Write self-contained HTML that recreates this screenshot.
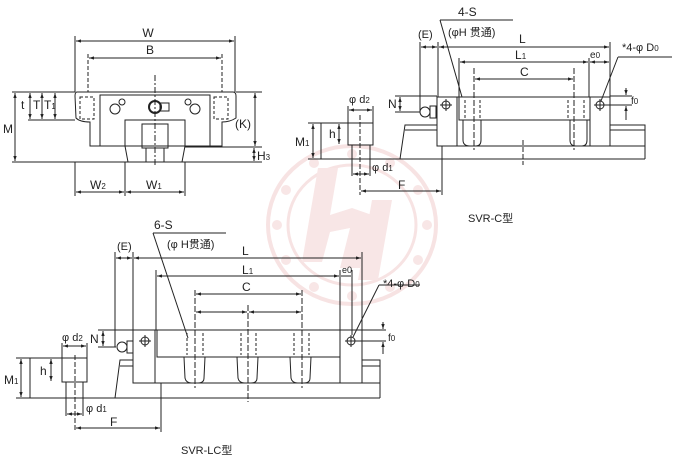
<!DOCTYPE html>
<html><head><meta charset="utf-8"><style>
html,body{margin:0;padding:0;background:#fff;width:678px;height:464px;overflow:hidden}
svg{display:block}
text{font-family:"Liberation Sans","Noto Sans CJK SC",sans-serif;fill:#222}
</style></head><body>
<svg width="678" height="464" viewBox="0 0 678 464" xmlns="http://www.w3.org/2000/svg">
<defs>
<marker id="a" viewBox="0 0 6 6" refX="6" refY="3" markerWidth="5" markerHeight="5" orient="auto-start-reverse"><path d="M0,1 L6,3 L0,5z" fill="#222"/></marker>
</defs>
<!-- watermark -->
<g fill="none" stroke="#f7e3e3">
<ellipse cx="352" cy="225" rx="84" ry="79" stroke-width="4"/>
<ellipse cx="352" cy="225" rx="64" ry="60" stroke-width="3"/>
</g>
<g fill="#f8e6e6">
<circle cx="352" cy="154" r="5"/><circle cx="390" cy="163" r="5"/><circle cx="418" cy="190" r="5"/><circle cx="427" cy="225" r="5"/><circle cx="418" cy="260" r="5"/><circle cx="390" cy="287" r="5"/><circle cx="352" cy="296" r="5"/><circle cx="314" cy="287" r="5"/><circle cx="286" cy="260" r="5"/><circle cx="277" cy="225" r="5"/><circle cx="286" cy="190" r="5"/><circle cx="314" cy="163" r="5"/>
<path d="M318,168 L338,168 L330,215 L352,208 L372,215 L360,268 L340,268 L350,228 L330,232 L322,262 L302,262 Z"/>
<path d="M372,200 L392,200 L378,280 L358,280 Z"/>
</g>

<g stroke="#222" stroke-width="1" fill="none">
<!-- ===== Front view ===== -->
<line x1="75" y1="36" x2="75" y2="92"/><line x1="235" y1="36" x2="235" y2="92"/>
<line x1="76" y1="41" x2="234" y2="41" marker-start="url(#a)" marker-end="url(#a)"/>
<line x1="88" y1="54" x2="88" y2="92" stroke-dasharray="4,2"/><line x1="222" y1="54" x2="222" y2="92" stroke-dasharray="4,2"/>
<line x1="89" y1="58" x2="221" y2="58" marker-start="url(#a)" marker-end="url(#a)"/>
<path d="M77,92 L233,92 Q236,92 236,96 L236,118 Q230,122 222,122 L222,146 L185,146 L185,120 L125,120 L125,146 L90,146 L90,122 Q80,122 76,118 L75,96 Q75,92 77,92 Z"/>
<rect x="100" y="95" width="110" height="51"/>
<rect x="80" y="97" width="14" height="22" stroke-dasharray="3,2"/><rect x="214" y="97" width="14" height="22" stroke-dasharray="3,2"/>
<path d="M125,120 L185,120 L185,146 L182,162 L128,162 L125,146"/>
<rect x="142" y="124" width="26" height="24"/>
<rect x="146" y="148" width="18" height="14"/>
<line x1="155" y1="75" x2="155" y2="166" stroke-dasharray="6,2,2,2"/>
<circle cx="115" cy="109" r="5"/><circle cx="122" cy="102" r="3"/><circle cx="195" cy="109" r="5"/><circle cx="188" cy="102" r="3"/>
<circle cx="155" cy="107" r="6" stroke-width="2"/><rect x="160" y="103" width="9" height="8"/>
<line x1="12" y1="92" x2="75" y2="92"/><line x1="236" y1="92" x2="262" y2="92"/>
<line x1="28" y1="120" x2="75" y2="120"/>
<line x1="12" y1="162" x2="262" y2="162"/>
<line x1="185" y1="147" x2="262" y2="147"/>
<line x1="15" y1="93" x2="15" y2="161" marker-start="url(#a)" marker-end="url(#a)"/>
<line x1="30" y1="93" x2="30" y2="119" marker-start="url(#a)" marker-end="url(#a)"/>
<line x1="42" y1="93" x2="42" y2="119" marker-start="url(#a)" marker-end="url(#a)"/>
<line x1="55" y1="93" x2="55" y2="119" marker-start="url(#a)" marker-end="url(#a)"/>
<line x1="255" y1="93" x2="255" y2="146" marker-start="url(#a)" marker-end="url(#a)"/>
<line x1="254" y1="148" x2="254" y2="161" marker-start="url(#a)" marker-end="url(#a)"/>
<line x1="75" y1="162" x2="75" y2="196"/><line x1="125" y1="162" x2="125" y2="196"/><line x1="185" y1="162" x2="185" y2="196"/>
<line x1="76" y1="192" x2="124" y2="192" marker-start="url(#a)" marker-end="url(#a)"/>
<line x1="126" y1="192" x2="184" y2="192" marker-start="url(#a)" marker-end="url(#a)"/>

<!-- ===== SVR-C side view ===== -->
<line x1="321" y1="123" x2="321" y2="159"/><line x1="321" y1="123" x2="373" y2="123"/>
<rect x="348" y="123" width="25" height="22"/><rect x="352" y="145" width="18" height="14"/>
<line x1="308" y1="123" x2="321" y2="123"/><line x1="308" y1="159" x2="321" y2="159"/>
<line x1="313" y1="124" x2="313" y2="158" marker-start="url(#a)" marker-end="url(#a)"/>
<line x1="339" y1="124" x2="339" y2="144" marker-start="url(#a)" marker-end="url(#a)"/>
<line x1="348" y1="106" x2="348" y2="123"/><line x1="373" y1="106" x2="373" y2="123"/>
<line x1="349" y1="110" x2="372" y2="110" marker-start="url(#a)" marker-end="url(#a)"/>
<line x1="352" y1="159" x2="352" y2="176"/><line x1="370" y1="159" x2="370" y2="176"/>
<line x1="353" y1="174" x2="369" y2="174" marker-start="url(#a)" marker-end="url(#a)"/>
<line x1="360" y1="115" x2="360" y2="195" stroke-dasharray="5,2"/>
<line x1="361" y1="191" x2="441" y2="191" marker-start="url(#a)" marker-end="url(#a)"/>
<line x1="442" y1="146" x2="442" y2="195"/>
<line x1="321" y1="159" x2="645" y2="159"/>
<path d="M400,159 L405,125 L437,125"/><line x1="405" y1="130" x2="437" y2="130"/>
<path d="M610,125 L645,125 L645,159"/><line x1="610" y1="130" x2="645" y2="130"/>
<line x1="437" y1="146" x2="645" y2="146"/>
<rect x="437" y="97" width="173" height="49"/>
<line x1="457" y1="97" x2="457" y2="146"/><line x1="590" y1="97" x2="590" y2="146"/>
<rect x="459" y="97" width="131" height="23"/>
<path d="M463,120 L463,140 Q463,146 470,146 L476,146 Q481,146 481,140 L481,120"/>
<path d="M570,120 L570,140 Q570,146 576,146 L582,146 Q587,146 587,140 L587,120"/>
<line x1="465" y1="100" x2="465" y2="118" stroke-dasharray="3,2"/><line x1="480" y1="100" x2="480" y2="118" stroke-dasharray="3,2"/>
<line x1="568" y1="100" x2="568" y2="118" stroke-dasharray="3,2"/><line x1="584" y1="100" x2="584" y2="118" stroke-dasharray="3,2"/>
<line x1="474" y1="68" x2="474" y2="150" stroke-dasharray="6,2"/><line x1="574" y1="68" x2="574" y2="150" stroke-dasharray="6,2"/>
<line x1="523" y1="140" x2="523" y2="165" stroke-dasharray="5,2"/>
<circle cx="446" cy="105" r="4"/><line x1="440" y1="105" x2="452" y2="105"/><line x1="446" y1="99" x2="446" y2="111"/>
<circle cx="600" cy="105" r="4"/><line x1="594" y1="105" x2="632" y2="105"/><line x1="600" y1="99" x2="600" y2="111"/>
<circle cx="425" cy="112" r="5"/><rect x="430" y="106" width="6" height="12"/>
<line x1="395" y1="96" x2="437" y2="96"/><line x1="395" y1="112" x2="420" y2="112"/>
<line x1="400" y1="97" x2="400" y2="111" marker-start="url(#a)" marker-end="url(#a)"/>
<line x1="610" y1="96" x2="632" y2="96"/>
<line x1="626" y1="88" x2="626" y2="95" marker-end="url(#a)"/><line x1="626" y1="120" x2="626" y2="106" marker-end="url(#a)"/>
<line x1="420" y1="42" x2="420" y2="112"/><line x1="438" y1="42" x2="438" y2="97"/><line x1="610" y1="42" x2="610" y2="97"/>
<line x1="421" y1="47" x2="437" y2="47" marker-start="url(#a)" marker-end="url(#a)"/>
<line x1="439" y1="47" x2="609" y2="47" marker-start="url(#a)" marker-end="url(#a)"/>
<line x1="459" y1="58" x2="459" y2="97"/><line x1="589" y1="58" x2="589" y2="97"/>
<line x1="460" y1="62" x2="588" y2="62" marker-start="url(#a)" marker-end="url(#a)"/>
<line x1="590" y1="62" x2="609" y2="62" marker-start="url(#a)" marker-end="url(#a)"/>
<line x1="475" y1="79" x2="573" y2="79" marker-start="url(#a)" marker-end="url(#a)"/>
<line x1="440" y1="20" x2="513" y2="20"/><line x1="440" y1="20" x2="462" y2="97"/>
<line x1="618" y1="57" x2="672" y2="57"/><line x1="618" y1="57" x2="601" y2="101"/>

<!-- ===== SVR-LC side view ===== -->
<line x1="30" y1="358" x2="30" y2="398"/><line x1="30" y1="358" x2="87" y2="358"/>
<rect x="62" y="358" width="25" height="24"/><rect x="66" y="382" width="17" height="16"/>
<line x1="16" y1="358" x2="30" y2="358"/><line x1="16" y1="398" x2="30" y2="398"/>
<line x1="21" y1="359" x2="21" y2="397" marker-start="url(#a)" marker-end="url(#a)"/>
<line x1="51" y1="359" x2="51" y2="381" marker-start="url(#a)" marker-end="url(#a)"/>
<line x1="62" y1="343" x2="62" y2="358"/><line x1="87" y1="343" x2="87" y2="358"/>
<line x1="63" y1="346" x2="86" y2="346" marker-start="url(#a)" marker-end="url(#a)"/>
<line x1="66" y1="398" x2="66" y2="416"/><line x1="83" y1="398" x2="83" y2="416"/>
<line x1="67" y1="414" x2="82" y2="414" marker-start="url(#a)" marker-end="url(#a)"/>
<line x1="75" y1="355" x2="75" y2="432" stroke-dasharray="5,2"/>
<line x1="76" y1="428" x2="160" y2="428" marker-start="url(#a)" marker-end="url(#a)"/>
<line x1="161" y1="383" x2="161" y2="432"/>
<line x1="30" y1="398" x2="380" y2="398"/>
<path d="M115,398 L120,360 L133,360"/><line x1="120" y1="366" x2="133" y2="366"/>
<path d="M362,360 L380,360 L380,398"/><line x1="362" y1="366" x2="380" y2="366"/>
<line x1="133" y1="383" x2="380" y2="383"/>
<rect x="133" y="330" width="229" height="53"/>
<line x1="155" y1="330" x2="155" y2="383"/><line x1="340" y1="330" x2="340" y2="383"/>
<rect x="157" y="330" width="183" height="27"/>
<path d="M184,357 L185,378 Q186,383 192,383 L198,383 Q204,383 204,378 L205,357"/>
<path d="M237,357 L238,378 Q239,383 245,383 L251,383 Q257,383 257,378 L258,357"/>
<path d="M290,357 L291,378 Q292,383 298,383 L304,383 Q310,383 310,378 L311,357"/>
<line x1="187" y1="333" x2="187" y2="355" stroke-dasharray="3,2"/><line x1="203" y1="333" x2="203" y2="355" stroke-dasharray="3,2"/>
<line x1="241" y1="333" x2="241" y2="355" stroke-dasharray="3,2"/><line x1="256" y1="333" x2="256" y2="355" stroke-dasharray="3,2"/>
<line x1="294" y1="333" x2="294" y2="355" stroke-dasharray="3,2"/><line x1="309" y1="333" x2="309" y2="355" stroke-dasharray="3,2"/>
<line x1="195" y1="290" x2="195" y2="388" stroke-dasharray="6,2"/><line x1="248" y1="305" x2="248" y2="402" stroke-dasharray="6,2"/><line x1="302" y1="290" x2="302" y2="388" stroke-dasharray="6,2"/>
<circle cx="145" cy="341" r="4"/><line x1="139" y1="341" x2="151" y2="341"/><line x1="145" y1="335" x2="145" y2="347"/>
<circle cx="351" cy="341" r="4"/><line x1="345" y1="341" x2="386" y2="341"/><line x1="351" y1="335" x2="351" y2="347"/>
<circle cx="122" cy="347" r="5"/><rect x="127" y="341" width="6" height="12"/>
<line x1="98" y1="330" x2="133" y2="330"/><line x1="98" y1="347" x2="116" y2="347"/>
<line x1="103" y1="331" x2="103" y2="346" marker-start="url(#a)" marker-end="url(#a)"/>
<line x1="362" y1="330" x2="386" y2="330"/>
<line x1="383" y1="322" x2="383" y2="329" marker-end="url(#a)"/><line x1="383" y1="354" x2="383" y2="342" marker-end="url(#a)"/>
<line x1="115" y1="252" x2="115" y2="347"/><line x1="133" y1="252" x2="133" y2="330"/><line x1="362" y1="252" x2="362" y2="330"/>
<line x1="116" y1="258" x2="132" y2="258" marker-start="url(#a)" marker-end="url(#a)"/>
<line x1="134" y1="258" x2="361" y2="258" marker-start="url(#a)" marker-end="url(#a)"/>
<line x1="156" y1="270" x2="156" y2="330"/><line x1="340" y1="270" x2="340" y2="330"/><line x1="352" y1="270" x2="352" y2="335"/>
<line x1="157" y1="276" x2="339" y2="276" marker-start="url(#a)" marker-end="url(#a)"/>
<line x1="341" y1="276" x2="351" y2="276"/>
<line x1="196" y1="294" x2="301" y2="294" marker-start="url(#a)" marker-end="url(#a)"/>
<line x1="196" y1="312" x2="247" y2="312" marker-start="url(#a)" marker-end="url(#a)"/>
<line x1="249" y1="312" x2="301" y2="312" marker-start="url(#a)" marker-end="url(#a)"/>
<line x1="153" y1="233" x2="226" y2="233"/><line x1="153" y1="233" x2="188" y2="338"/>
<line x1="379" y1="285" x2="420" y2="285"/><line x1="379" y1="285" x2="353" y2="337"/>
</g>

<g font-size="12">
<text x="148" y="37" text-anchor="middle">W</text>
<text x="150" y="54" text-anchor="middle">B</text>
<text x="3" y="133">M</text>
<text x="21" y="109">t</text><text x="33" y="109">T</text><text x="44" y="109">T<tspan font-size="8">1</tspan></text>
<text x="235" y="128">(K)</text>
<text x="257" y="160">H<tspan font-size="8">3</tspan></text>
<text x="90" y="189">W<tspan font-size="8">2</tspan></text>
<text x="146" y="189">W<tspan font-size="8">1</tspan></text>

<text x="458" y="16">4-S</text>
<text x="448" y="36" font-size="11">(φH 贯通)</text>
<text x="418" y="38" font-size="11">(E)</text>
<text x="519" y="43">L</text>
<text x="515" y="59">L<tspan font-size="8">1</tspan></text>
<text x="520" y="76">C</text>
<text x="590" y="58" font-size="10">e<tspan font-size="8">0</tspan></text>
<text x="622" y="51" font-size="11">*4-φ D<tspan font-size="8">0</tspan></text>
<text x="349" y="103" font-size="11">φ d<tspan font-size="8">2</tspan></text>
<text x="388" y="108">N</text>
<text x="631" y="104" font-size="10">f<tspan font-size="8">0</tspan></text>
<text x="295" y="146">M<tspan font-size="8">1</tspan></text>
<text x="329" y="138">h</text>
<text x="372" y="171" font-size="11">φ d<tspan font-size="8">1</tspan></text>
<text x="398" y="189">F</text>
<text x="468" y="222" font-size="11">SVR-C型</text>

<text x="154" y="229">6-S</text>
<text x="167" y="248" font-size="11">(φ H贯通)</text>
<text x="117" y="250" font-size="11">(E)</text>
<text x="242" y="255">L</text>
<text x="242" y="274">L<tspan font-size="8">1</tspan></text>
<text x="242" y="291">C</text>
<text x="342" y="273" font-size="9">e0</text>
<text x="383" y="287" font-size="11">*4-φ D<tspan font-size="8">0</tspan></text>
<text x="62" y="341" font-size="11">φ d<tspan font-size="8">2</tspan></text>
<text x="90" y="343">N</text>
<text x="388" y="341" font-size="10">f<tspan font-size="8">0</tspan></text>
<text x="4" y="384">M<tspan font-size="8">1</tspan></text>
<text x="40" y="375">h</text>
<text x="86" y="412" font-size="11">φ d<tspan font-size="8">1</tspan></text>
<text x="110" y="426">F</text>
<text x="181" y="454" font-size="11">SVR-LC型</text>
</g>
</svg>
</body></html>
